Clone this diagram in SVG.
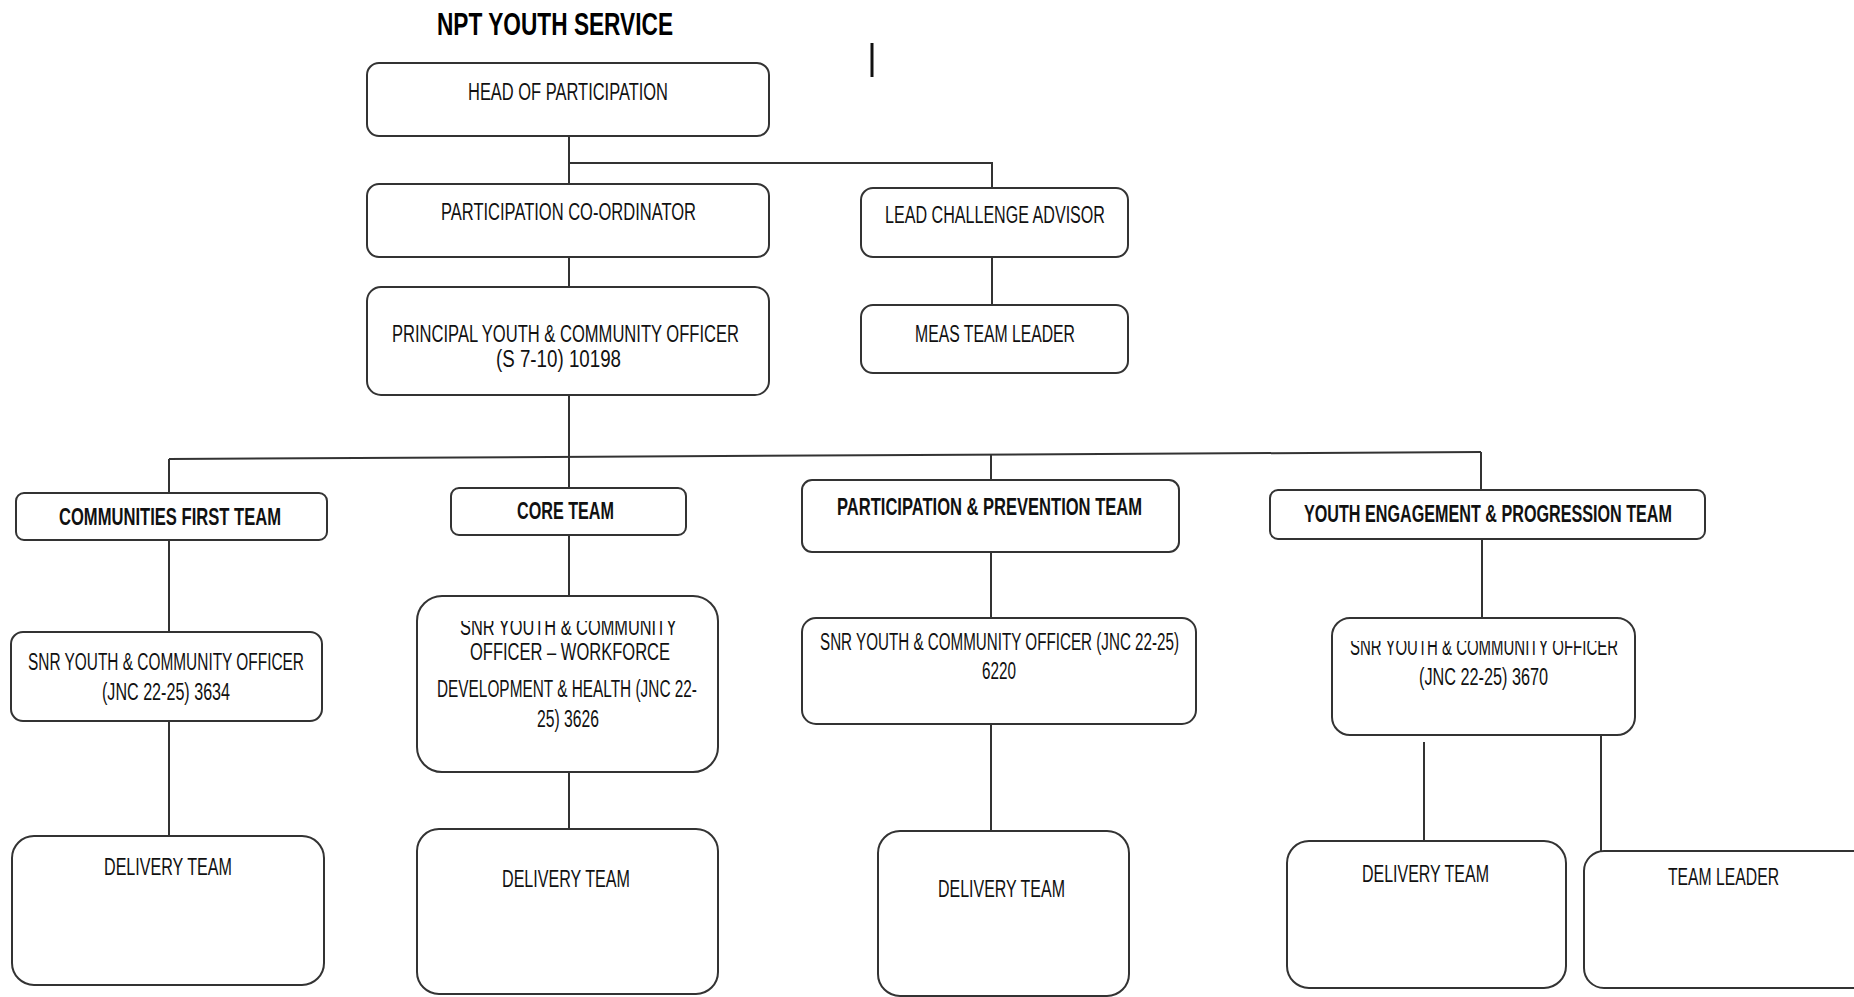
<svg xmlns="http://www.w3.org/2000/svg" width="1854" height="997" viewBox="0 0 1854 997">
<style>
.box{fill:#fff;stroke:#333;stroke-width:2}
.ln{stroke:#333;stroke-width:2;fill:none}
.t{font-family:"Liberation Sans",Arial,sans-serif;font-size:23px;fill:#111;text-anchor:middle}
.b{font-weight:bold}
.title{font-family:"Liberation Sans",Arial,sans-serif;font-size:32px;font-weight:bold;fill:#000;text-anchor:middle}
</style>
<defs>
<clipPath id="clipCore"><rect x="417" y="621" width="301" height="150"/></clipPath>
<clipPath id="clipYep"><rect x="1332" y="641" width="303" height="93"/></clipPath>
</defs>
<rect width="1854" height="997" fill="#fff"/>
<text class="title" x="555" y="35" textLength="236" lengthAdjust="spacingAndGlyphs">NPT YOUTH SERVICE</text>
<line x1="872" y1="43" x2="872" y2="77" stroke="#111" stroke-width="3"/>

<g id="connectors">
<path class="ln" d="M569 136V184"/>
<path class="ln" d="M569 163H992V188"/>
<path class="ln" d="M569 257V287"/>
<path class="ln" d="M992 257V305"/>
<path class="ln" d="M569 395V488"/>
<path class="ln" d="M169 459L1481 452"/>
<path class="ln" d="M169 459V493"/>
<path class="ln" d="M991 455V480"/>
<path class="ln" d="M1481 452V490"/>
<path class="ln" d="M169 540V632"/>
<path class="ln" d="M169 721V836"/>
<path class="ln" d="M569 535V596"/>
<path class="ln" d="M569 772V829"/>
<path class="ln" d="M991 552V618"/>
<path class="ln" d="M991 724V831"/>
<path class="ln" d="M1482 539V618"/>
<path class="ln" d="M1424 742V841"/>
<path class="ln" d="M1601 735V851"/>
</g>

<g id="head">
<rect class="box" x="367" y="63" width="402" height="73" rx="12"/>
<text class="t" x="568" y="100" textLength="200" lengthAdjust="spacingAndGlyphs">HEAD OF PARTICIPATION</text>
</g>
<g id="coordinator">
<rect class="box" x="367" y="184" width="402" height="73" rx="12"/>
<text class="t" x="568.5" y="220" textLength="255" lengthAdjust="spacingAndGlyphs">PARTICIPATION CO-ORDINATOR</text>
</g>
<g id="principal">
<rect class="box" x="367" y="287" width="402" height="108" rx="14"/>
<text class="t" x="565.5" y="342" textLength="347" lengthAdjust="spacingAndGlyphs">PRINCIPAL YOUTH &amp; COMMUNITY OFFICER</text>
<text class="t" x="558.5" y="367" textLength="125" lengthAdjust="spacingAndGlyphs">(S 7-10) 10198</text>
</g>
<g id="lead-challenge">
<rect class="box" x="861" y="188" width="267" height="69" rx="12"/>
<text class="t" x="995" y="223" textLength="220" lengthAdjust="spacingAndGlyphs">LEAD CHALLENGE ADVISOR</text>
</g>
<g id="meas">
<rect class="box" x="861" y="305" width="267" height="68" rx="12"/>
<text class="t" x="995" y="342" textLength="160" lengthAdjust="spacingAndGlyphs">MEAS TEAM LEADER</text>
</g>

<g id="cft">
<rect class="box" x="16" y="493" width="311" height="47" rx="8"/>
<text class="t b" x="170" y="525" textLength="222" lengthAdjust="spacingAndGlyphs">COMMUNITIES FIRST TEAM</text>
</g>
<g id="core">
<rect class="box" x="451" y="488" width="235" height="47" rx="8"/>
<text class="t b" x="565.5" y="519" textLength="97" lengthAdjust="spacingAndGlyphs">CORE TEAM</text>
</g>
<g id="pp">
<rect class="box" x="802" y="480" width="377" height="72" rx="10"/>
<text class="t b" x="989.5" y="515" textLength="305" lengthAdjust="spacingAndGlyphs">PARTICIPATION &amp; PREVENTION TEAM</text>
</g>
<g id="yep">
<rect class="box" x="1270" y="490" width="435" height="49" rx="8"/>
<text class="t b" x="1488" y="522" textLength="368" lengthAdjust="spacingAndGlyphs">YOUTH ENGAGEMENT &amp; PROGRESSION TEAM</text>
</g>

<g id="snr-cft">
<rect class="box" x="11" y="632" width="311" height="89" rx="12"/>
<text class="t" x="166" y="670" textLength="276" lengthAdjust="spacingAndGlyphs">SNR YOUTH &amp; COMMUNITY OFFICER</text>
<text class="t" x="166" y="700" textLength="128" lengthAdjust="spacingAndGlyphs">(JNC 22-25) 3634</text>
</g>
<g id="snr-core">
<rect class="box" x="417" y="596" width="301" height="176" rx="25"/>
<text class="t" x="568.5" y="635" textLength="217" lengthAdjust="spacingAndGlyphs" clip-path="url(#clipCore)">SNR YOUTH &amp; COMMUNITY</text>
<text class="t" x="570" y="660" textLength="200" lengthAdjust="spacingAndGlyphs">OFFICER – WORKFORCE</text>
<text class="t" x="567" y="697" textLength="260" lengthAdjust="spacingAndGlyphs">DEVELOPMENT &amp; HEALTH (JNC 22-</text>
<text class="t" x="568" y="727" textLength="62" lengthAdjust="spacingAndGlyphs">25) 3626</text>
</g>
<g id="snr-pp">
<rect class="box" x="802" y="618" width="394" height="106" rx="14"/>
<text class="t" x="999.5" y="650" textLength="359" lengthAdjust="spacingAndGlyphs">SNR YOUTH &amp; COMMUNITY OFFICER (JNC 22-25)</text>
<text class="t" x="999" y="679" textLength="34" lengthAdjust="spacingAndGlyphs">6220</text>
</g>
<g id="snr-yep">
<rect class="box" x="1332" y="618" width="303" height="117" rx="18"/>
<text class="t" x="1484" y="655" textLength="268" lengthAdjust="spacingAndGlyphs" clip-path="url(#clipYep)">SNR YOUTH &amp; COMMUNITY OFFICER</text>
<text class="t" x="1483.5" y="685" textLength="129" lengthAdjust="spacingAndGlyphs">(JNC 22-25) 3670</text>
</g>

<g id="delivery-cft">
<rect class="box" x="12" y="836" width="312" height="149" rx="22"/>
<text class="t" x="168" y="875" textLength="128" lengthAdjust="spacingAndGlyphs">DELIVERY TEAM</text>
</g>
<g id="delivery-core">
<rect class="box" x="417" y="829" width="301" height="165" rx="22"/>
<text class="t" x="566" y="887" textLength="128" lengthAdjust="spacingAndGlyphs">DELIVERY TEAM</text>
</g>
<g id="delivery-pp">
<rect class="box" x="878" y="831" width="251" height="165" rx="22"/>
<text class="t" x="1001.5" y="897" textLength="127" lengthAdjust="spacingAndGlyphs">DELIVERY TEAM</text>
</g>
<g id="delivery-yep">
<rect class="box" x="1287" y="841" width="279" height="147" rx="22"/>
<text class="t" x="1425.5" y="882" textLength="127" lengthAdjust="spacingAndGlyphs">DELIVERY TEAM</text>
</g>
<g id="team-leader">
<rect class="box" x="1584" y="851" width="290" height="137" rx="20"/>
<text class="t" x="1723.5" y="885" textLength="111" lengthAdjust="spacingAndGlyphs">TEAM LEADER</text>
</g>
</svg>
